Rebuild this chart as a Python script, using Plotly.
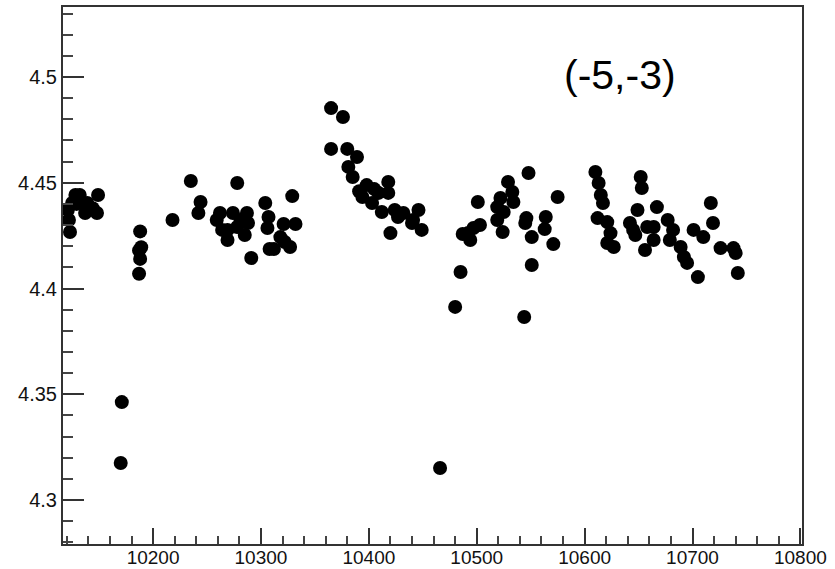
import plotly.graph_objects as go

# ---- data ----
x_vals = [
    # group near 10120-10150
    10121, 10123, 10122, 10125, 10128, 10132, 10135, 10139, 10137, 10144, 10149, 10148, 10129,
    # group near 10170-10220
    10188, 10189, 10187, 10188, 10187, 10171, 10170, 10218,
    # group 10230-10335
    10235, 10278, 10244, 10242, 10329, 10304, 10307, 10306, 10291, 10308, 10327, 10332, 10321,
    10318, 10259, 10269, 10269, 10278, 10287, 10288, 10285, 10274, 10262, 10281, 10264, 10312, 10322,
    # group 10360-10450
    10365, 10376, 10365, 10380, 10389, 10381, 10385, 10398, 10394, 10403, 10409, 10418, 10418,
    10412, 10424, 10427, 10420, 10446, 10440, 10449, 10432, 10441, 10391, 10405,
    # group 10460-10575
    10548, 10529, 10533, 10534, 10522, 10519, 10525, 10519, 10524, 10501, 10503, 10497, 10492,
    10487, 10494, 10575, 10546, 10545, 10564, 10563, 10551, 10571, 10551, 10485, 10480, 10544, 10466,
    # group 10605-10745
    10610, 10613, 10615, 10617, 10612, 10621, 10624, 10627, 10652, 10653, 10649, 10642, 10645,
    10656, 10667, 10677, 10682, 10679, 10689, 10692, 10705, 10695, 10701, 10710, 10717, 10719,
    10726, 10738, 10740, 10742, 10664, 10658, 10664, 10621, 10647,
]
y_vals = [
    4.4371, 4.4267, 4.4324, 4.4404, 4.4442, 4.4442, 4.4404, 4.4404, 4.4357, 4.4380, 4.4442, 4.4357, 4.4400,
    4.4270, 4.4195, 4.4180, 4.4140, 4.4070, 4.3463, 4.3175, 4.4324,
    4.4508, 4.4499, 4.4409, 4.4357, 4.4437, 4.4404, 4.4338, 4.4286, 4.4144, 4.4187, 4.4196, 4.4305, 4.4305,
    4.4243, 4.4324, 4.4277, 4.4229, 4.4291, 4.4357, 4.4310, 4.4253, 4.4357, 4.4357, 4.4324, 4.4277, 4.4187, 4.4220,
    4.4853, 4.4811, 4.4660, 4.4660, 4.4622, 4.4575, 4.4527, 4.4489, 4.4433, 4.4404, 4.4452, 4.4504, 4.4452,
    4.4362, 4.4371, 4.4338, 4.4262, 4.4371, 4.4310, 4.4277, 4.4357, 4.4324, 4.4460, 4.4470,
    4.4546, 4.4504, 4.4456, 4.4409, 4.4428, 4.4385, 4.4362, 4.4324, 4.4267, 4.4409, 4.4300, 4.4286, 4.4262,
    4.4258, 4.4229, 4.4433, 4.4333, 4.4310, 4.4338, 4.4281, 4.4243, 4.4210, 4.4111, 4.4078, 4.3913, 4.3865, 4.3151,
    4.4551, 4.4499, 4.4442, 4.4404, 4.4333, 4.4314, 4.4262, 4.4196, 4.4527, 4.4475, 4.4371, 4.4310, 4.4277,
    4.4182, 4.4385, 4.4324, 4.4277, 4.4229, 4.4196, 4.4149, 4.4054, 4.4121, 4.4277, 4.4243, 4.4404, 4.4310,
    4.4191, 4.4191, 4.4168, 4.4073, 4.4291, 4.4291, 4.4229, 4.4215, 4.4253,
]

x_ticks = [10200, 10300, 10400, 10500, 10600, 10700, 10800]
x_tick_text = ["10200", "10300", "10400", "10500", "10600", "10700", "10800"]
y_ticks = [4.3, 4.35, 4.4, 4.45, 4.5]
y_tick_text = ["4.3", "4.35", "4.4", "4.45", "4.5"]
label_text = "(-5,-3)"

FONT = "Liberation Sans, Arial, Helvetica, sans-serif"

fig = go.Figure()
fig.add_trace(go.Scatter(
    x=x_vals, y=y_vals, mode="markers",
    marker=dict(color="black", size=14, line=dict(width=0)),
    showlegend=False,
))

fig.update_layout(
    width=835, height=569,
    margin=dict(l=63, r=33, t=7, b=25),
    paper_bgcolor="white", plot_bgcolor="white",
    font=dict(family=FONT, color="#111111", size=19),
    annotations=[dict(
        text=label_text, xref="paper", yref="paper",
        x=0.754, y=0.873, showarrow=False,
        xanchor="center", yanchor="middle",
        font=dict(family=FONT, size=41, color="black"),
    )],
)

fig.update_xaxes(
    range=[10116.5, 10801.5], automargin=False,
    tickmode="array", tickvals=x_ticks, ticktext=x_tick_text,
    ticks="inside", ticklen=16, tickwidth=2, tickcolor="#333333",
    ticklabelstandoff=-5,
    minor=dict(dtick=20, tick0=10200, ticks="inside", ticklen=8, tickwidth=2, tickcolor="#444444", showgrid=False),
    showline=True, linecolor="#333333", linewidth=2, mirror=True,
    showgrid=False, zeroline=False,
    tickfont=dict(family=FONT, size=19, color="#111111"),
)
fig.update_yaxes(
    range=[4.2792, 4.5331], automargin=False,
    tickmode="array", tickvals=y_ticks, ticktext=y_tick_text,
    ticks="inside", ticklen=21, tickwidth=2, tickcolor="#333333",
    minor=dict(dtick=0.01, tick0=4.3, ticks="inside", ticklen=10, tickwidth=2, tickcolor="#444444", showgrid=False),
    showline=True, linecolor="#333333", linewidth=2, mirror=True,
    showgrid=False, zeroline=False,
    tickfont=dict(family=FONT, size=20, color="#111111"),
)

fig.write_html("out.html")
